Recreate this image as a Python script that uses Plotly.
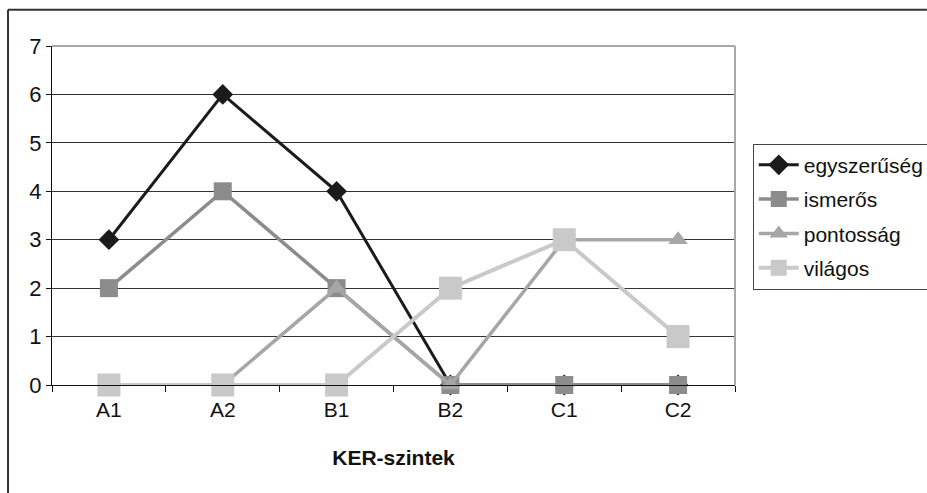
import plotly.graph_objects as go

levels = ["A1", "A2", "B1", "B2", "C1", "C2"]
egyszeruseg = [3, 6, 4, 0, 0, 0]
ismeros = [2, 4, 2, 0, 0, 0]
pontossag = [0, 0, 2, 0, 3, 3]
vilagos = [0, 0, 0, 2, 3, 1]
y_ticks = [0, 1, 2, 3, 4, 5, 6, 7]

FONT = "Liberation Sans, Arial, sans-serif"

series = [
    ("egyszerűség", egyszeruseg, "#1b1b1b", "diamond", 16, 3),
    ("ismerős", ismeros, "#8c8c8c", "square", 18, 3.5),
    ("pontosság", pontossag, "#a6a6a6", "triangle-up", 17, 3.5),
    ("világos", vilagos, "#c9c9c9", "square", 23, 4),
]

fig = go.Figure()
for name, vals, col, sym, msize, lw in series:
    fig.add_trace(go.Scatter(
        x=levels, y=vals, name=name, mode="lines+markers",
        line=dict(color=col, width=lw),
        marker=dict(symbol=sym, size=msize, color=col, line=dict(width=0)),
        legendgroup=name, cliponaxis=False,
    ))

fig.update_layout(
    width=927, height=493,
    margin=dict(l=52, r=192, t=46, b=108, autoexpand=False),
    paper_bgcolor="white", plot_bgcolor="white",
    font=dict(family=FONT, size=21, color="#111"),
    showlegend=True,
    legend=dict(
        x=1.026, y=0.712, xanchor="left", yanchor="top",
        bordercolor="#444", borderwidth=1, bgcolor="white",
        font=dict(family=FONT, size=21, color="#111"),
        tracegroupgap=4, itemwidth=40,
    ),
    xaxis=dict(
        type="category", range=[-0.5, 5.5],
        showline=True, linecolor="#111", linewidth=1,
        ticks="outside", tickson="boundaries", ticklen=6, tickcolor="#111",
        showgrid=False, zeroline=False,
        tickfont=dict(size=21), ticklabelstandoff=6,
        title=dict(text="<b>KER-szintek</b>", font=dict(size=21), standoff=30),
    ),
    yaxis=dict(
        range=[0, 7], tickvals=y_ticks,
        showline=True, linecolor="#111", linewidth=1,
        ticks="outside", ticklen=5, tickcolor="#111",
        showgrid=True, gridcolor="#333", gridwidth=1,
        zeroline=False, tickfont=dict(size=22),
    ),
    shapes=[
        # plot-area border (top and right, light gray)
        dict(type="line", xref="paper", yref="paper", x0=0, x1=1, y0=1, y1=1,
             line=dict(color="#a8a8a8", width=2)),
        dict(type="line", xref="paper", yref="paper", x0=1, x1=1, y0=0, y1=1,
             line=dict(color="#a8a8a8", width=2)),
        # outer chart frame (left and top edges, running to the page edges)
        dict(type="line", xref="paper", yref="paper",
             x0=-0.0644, x1=-0.0644, y0=-0.319, y1=1.107,
             line=dict(color="#333", width=2)),
        dict(type="line", xref="paper", yref="paper",
             x0=-0.0644, x1=1.281, y0=1.107, y1=1.107,
             line=dict(color="#333", width=2)),
    ],
)

# keep the page from showing scrollbars around the fixed-size figure
fig.write_html(
    "out.html",
    post_script="document.documentElement.style.overflow='hidden';"
                "document.body.style.overflow='hidden';"
                "document.body.style.margin='0';",
)
